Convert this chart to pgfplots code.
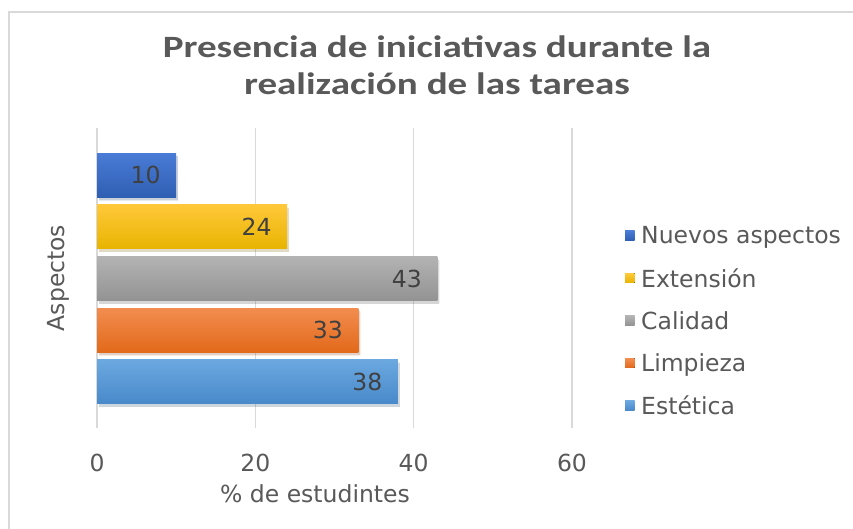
\documentclass[border=0pt]{standalone}
\usepackage{fontspec}
\setmainfont{DejaVu Sans}
\newfontfamily\titlefont{Carlito}
\usepackage{pgfplots}
\pgfplotsset{compat=1.18}
\definecolor{txt}{HTML}{595959}
\definecolor{lbl}{HTML}{404040}
\definecolor{gridc}{HTML}{D9D9D9}
\definecolor{azulT}{HTML}{4A7BD6}\definecolor{azulB}{HTML}{2F5FB3}
\definecolor{oroT}{HTML}{FFC83A}\definecolor{oroB}{HTML}{E8B400}
\definecolor{grisT}{HTML}{B3B3B3}\definecolor{grisB}{HTML}{939393}
\definecolor{narT}{HTML}{F28D4F}\definecolor{narB}{HTML}{E2691A}
\definecolor{celT}{HTML}{6BA8E0}\definecolor{celB}{HTML}{4889CA}

\begin{document}
\begin{tikzpicture}[x=1pt,y=1pt]
  \path[use as bounding box, fill=white] (0,0) rectangle (853,-529);
  \draw[line width=2pt, gridc] (853,-12) -- (9,-12) -- (9,-529);
  \node[font=\titlefont\bfseries\fontsize{31}{37}\selectfont, text=txt, align=center]
    at (437,-65) {\scalebox{1.26}[1]{Presencia de iniciativas durante la}\\
                  \scalebox{1.26}[1]{realización de las tareas}};
  \begin{axis}[
    at={(97pt,-428pt)}, anchor=south west,
    scale only axis, width=475pt, height=300pt,
    xmin=0, xmax=60, ymin=-0.89, ymax=4.91,
    xbar, bar width=0.85, bar shift=0pt,
    xtick={0,20,40,60}, ytick=\empty,
    axis line style={draw=none}, major tick length=0pt,
    xmajorgrids, grid style={gridc, line width=1.5pt},
    tick label style={font=\fontsize{23.5}{28}\selectfont, text=txt},
    /pgf/number format/assume math mode=true,
    xticklabel style={yshift=-23pt},
    xlabel={\% de estudintes},
    xlabel style={at={(axis description cs:0.459,0)}, anchor=center, yshift=-66pt,
      font=\fontsize{23.5}{28}\selectfont, text=txt},
    ylabel={Aspectos},
    ylabel style={at={([xshift=-39pt]axis description cs:0,0.5)}, anchor=center,
      font=\fontsize{23.5}{28}\selectfont, text=txt},
    nodes near coords,
    every node near coord/.append style={anchor=east, xshift=-12pt, text=lbl,
      font=\fontsize{23.5}{28}\selectfont},
    legend style={at={(1.1116,0.357)}, anchor=west, draw=none, fill=none,
      font=\fontsize{23.5}{28}\selectfont, text=txt, row sep=0pt, inner sep=0pt,
      nodes={minimum height=42.5pt, inner sep=2pt}},
    legend cell align=left,
    legend image code/.code={\fill[#1] (0pt,-4.5pt) rectangle (9.5pt,5pt);
      \path (0pt,0pt) -- (14pt,0pt);},
    shadowbar/.style={preaction={fill=black, opacity=0.12,
      transform canvas={xshift=2pt, yshift=-3pt}}},
  ]
    \addplot[draw=none, top color=azulT, bottom color=azulB, shadowbar, forget plot] coordinates {(10,4)};
    \addplot[draw=none, top color=oroT, bottom color=oroB, shadowbar, forget plot] coordinates {(24,3)};
    \addplot[draw=none, top color=grisT, bottom color=grisB, shadowbar, forget plot] coordinates {(43,2)};
    \addplot[draw=none, top color=narT, bottom color=narB, shadowbar, forget plot] coordinates {(33,1)};
    \addplot[draw=none, top color=celT, bottom color=celB, shadowbar, forget plot] coordinates {(38,0)};
    \addlegendimage{draw=none, top color=azulT, bottom color=azulB}
    \addlegendentry{Nuevos aspectos}
    \addlegendimage{draw=none, top color=oroT, bottom color=oroB}
    \addlegendentry{Extensión}
    \addlegendimage{draw=none, top color=grisT, bottom color=grisB}
    \addlegendentry{Calidad}
    \addlegendimage{draw=none, top color=narT, bottom color=narB}
    \addlegendentry{Limpieza}
    \addlegendimage{draw=none, top color=celT, bottom color=celB}
    \addlegendentry{Estética}
  \end{axis}
\end{tikzpicture}
\end{document}
